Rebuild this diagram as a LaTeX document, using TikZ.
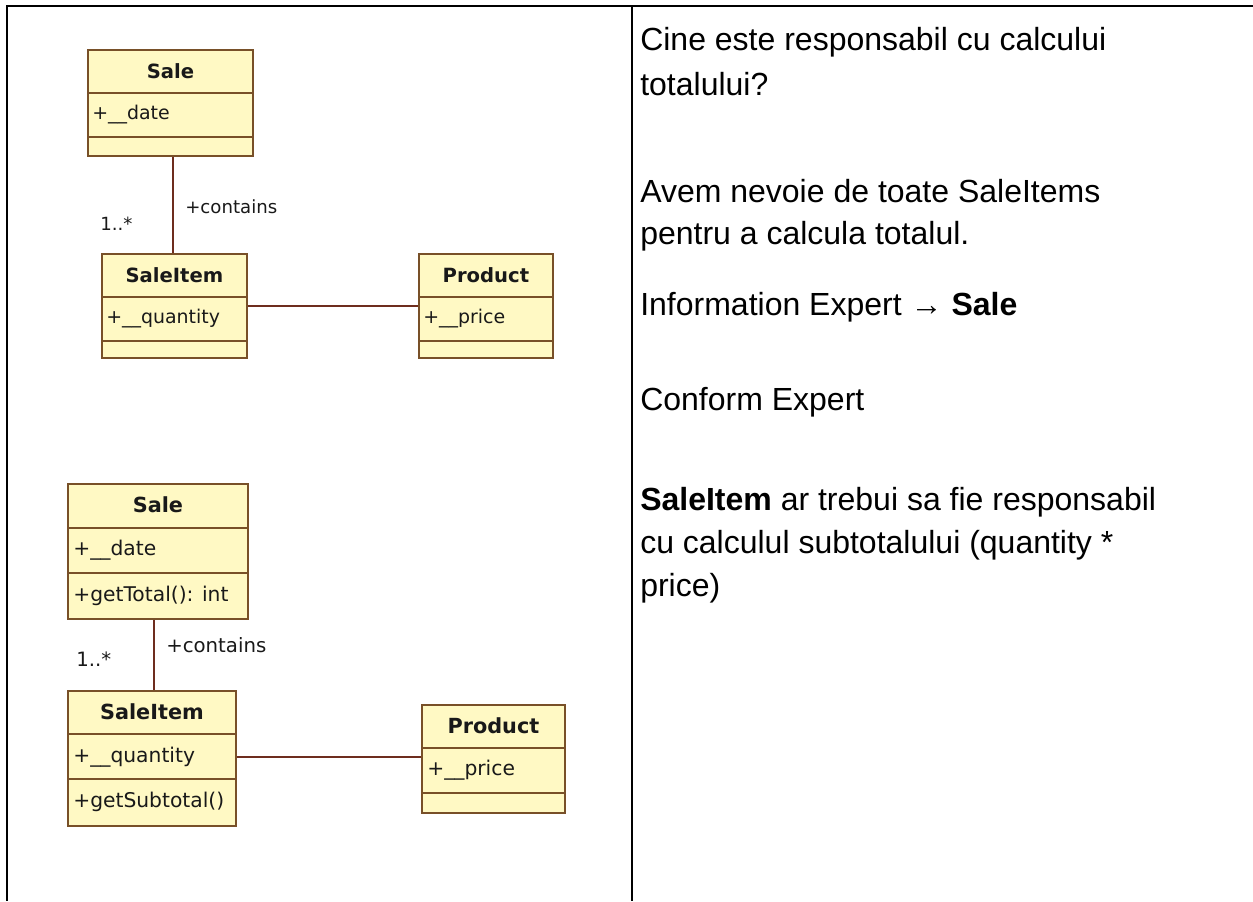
\documentclass[tikz,border=0pt]{standalone}
\usepackage{fontspec}
\setmainfont{Liberation Sans}
\newfontfamily\umlfont{DejaVu Sans}
\usetikzlibrary{positioning,calc}
\definecolor{umlfill}{RGB}{255,249,196}
\definecolor{umlborder}{RGB}{120,80,40}
\definecolor{umlline}{RGB}{110,45,30}
\definecolor{umltext}{RGB}{25,25,25}
\tikzset{
  cls/.style={draw=umlborder, fill=umlfill, line width=1.4pt, inner sep=0pt, anchor=north west},
  sep/.style={draw=umlborder, line width=1.1pt},
  assoc/.style={draw=umlline, line width=1.3pt},
  hdrA/.style={font=\umlfont\fontsize{14.7pt}{16pt}\selectfont\bfseries, text=umltext, inner sep=0pt},
  attrA/.style={font=\umlfont\fontsize{14.2pt}{16pt}\selectfont, text=umltext, inner sep=0pt, anchor=west},
  hdrB/.style={font=\umlfont\fontsize{15.6pt}{17pt}\selectfont\bfseries, text=umltext, inner sep=0pt},
  attrB/.style={font=\umlfont\fontsize{15.2pt}{17pt}\selectfont, text=umltext, inner sep=0pt, anchor=west},
  lblA/.style={font=\umlfont\fontsize{13.6pt}{15pt}\selectfont, text=umltext, inner sep=0pt, anchor=west},
  lblB/.style={font=\umlfont\fontsize{14.8pt}{16pt}\selectfont, text=umltext, inner sep=0pt, anchor=west},
  txt/.style={font=\fontsize{24pt}{28pt}\selectfont, inner sep=0pt, anchor=base west},
  rule/.style={draw=black, line width=1.5pt}
}
\begin{document}
\begin{tikzpicture}[x=0.75pt,y=-0.75pt]
\useasboundingbox (0,0) rectangle (1253,901);
% table rules
\coordinate (tl) at (7,6);
\coordinate (tr) at (1253,6);
\coordinate (bl) at (7,901);
\coordinate (tm) at (632,6);
\coordinate (bm) at (632,901);
\draw[rule] (tr) -- (tl) -- (bl);
\draw[rule] (tm) -- (bm);

% ---------- top diagram ----------
\node[cls, minimum width=165*0.75pt, minimum height=106*0.75pt] (sale1) at (87,49) {};
\draw[sep] ($(sale1.north west)+(0,44)$) -- ($(sale1.north east)+(0,44)$);
\draw[sep] ($(sale1.north west)+(0,88)$) -- ($(sale1.north east)+(0,88)$);
\node[hdrA] (sale1h) at ($(sale1.north)+(0,22)$) {Sale};
\node[attrA] (sale1a) at ($(sale1.north west)+(5,66)$) {+\_\_date};

\node[cls, minimum width=145*0.75pt, minimum height=104*0.75pt] (si1) at (101,253) {};
\draw[sep] ($(si1.north west)+(0,44)$) -- ($(si1.north east)+(0,44)$);
\draw[sep] ($(si1.north west)+(0,88)$) -- ($(si1.north east)+(0,88)$);
\node[hdrA] (si1h) at ($(si1.north)+(0,22)$) {SaleItem};
\node[attrA] (si1a) at ($(si1.north west)+(5,66)$) {+\_\_quantity};

\node[cls, minimum width=134*0.75pt, minimum height=104*0.75pt] (p1) at (418,253) {};
\draw[sep] ($(p1.north west)+(0,44)$) -- ($(p1.north east)+(0,44)$);
\draw[sep] ($(p1.north west)+(0,88)$) -- ($(p1.north east)+(0,88)$);
\node[hdrA] (p1h) at ($(p1.north)+(0,22)$) {Product};
\node[attrA] (p1a) at ($(p1.north west)+(5,66)$) {+\_\_price};

\coordinate (c1) at (173,0);
\draw[assoc] (sale1.south -| c1) -- (si1.north -| c1);
\draw[assoc] (si1.east) -- (p1.west);
\node[lblA] (cont1) at (185,207) {+contains};
\node[lblA] (mult1) at (100,224) {1..*};

% ---------- bottom diagram ----------
\node[cls, minimum width=180*0.75pt, minimum height=135*0.75pt] (sale2) at (67,483) {};
\draw[sep] ($(sale2.north west)+(0,45)$) -- ($(sale2.north east)+(0,45)$);
\draw[sep] ($(sale2.north west)+(0,90)$) -- ($(sale2.north east)+(0,90)$);
\node[hdrB] (sale2h) at ($(sale2.north)+(0,22)$) {Sale};
\node[attrB] (sale2a) at ($(sale2.north west)+(6,67)$) {+\_\_date};
\node[attrB] (sale2o) at ($(sale2.north west)+(6,113)$) {+getTotal(): int};

\node[cls, minimum width=168*0.75pt, minimum height=135*0.75pt] (si2) at (67,690) {};
\draw[sep] ($(si2.north west)+(0,44)$) -- ($(si2.north east)+(0,44)$);
\draw[sep] ($(si2.north west)+(0,89)$) -- ($(si2.north east)+(0,89)$);
\node[hdrB] (si2h) at ($(si2.north)+(0,22)$) {SaleItem};
\node[attrB] (si2a) at ($(si2.north west)+(6,67)$) {+\_\_quantity};
\node[attrB] (si2o) at ($(si2.north west)+(6,112)$) {+getSubtotal()};

\node[cls, minimum width=143*0.75pt, minimum height=108*0.75pt] (p2) at (421,704) {};
\draw[sep] ($(p2.north west)+(0,44)$) -- ($(p2.north east)+(0,44)$);
\draw[sep] ($(p2.north west)+(0,89)$) -- ($(p2.north east)+(0,89)$);
\node[hdrB] (p2h) at ($(p2.north)+(0,22)$) {Product};
\node[attrB] (p2a) at ($(p2.north west)+(6,66)$) {+\_\_price};

\coordinate (c2) at (154,0);
\draw[assoc] (sale2.south -| c2) -- (si2.north -| c2);
\coordinate (c3) at (0,757);
\draw[assoc] (si2.east |- c3) -- (p2.west |- c3);
\node[lblB] (cont2) at (166,645) {+contains};
\node[lblB] (mult2) at (76,659) {1..*};

% ---------- right column text ----------
\node[txt] (t1) at (640,50) {Cine este responsabil cu calcului};
\node[txt] (t2) at (640,95) {totalului?};
\node[txt] (t3) at (640,202) {Avem nevoie de toate SaleItems};
\node[txt] (t4) at (640,244) {pentru a calcula totalul.};
\node[txt] (t5) at (640,315) {Information Expert → \textbf{Sale}};
\node[txt] (t6) at (640,410) {Conform Expert};
\node[txt] (t7) at (640,510) {\textbf{SaleItem} ar trebui sa fie responsabil};
\node[txt] (t8) at (640,553) {cu calculul subtotalului (quantity *};
\node[txt] (t9) at (640,596) {price)};
\end{tikzpicture}
\end{document}
